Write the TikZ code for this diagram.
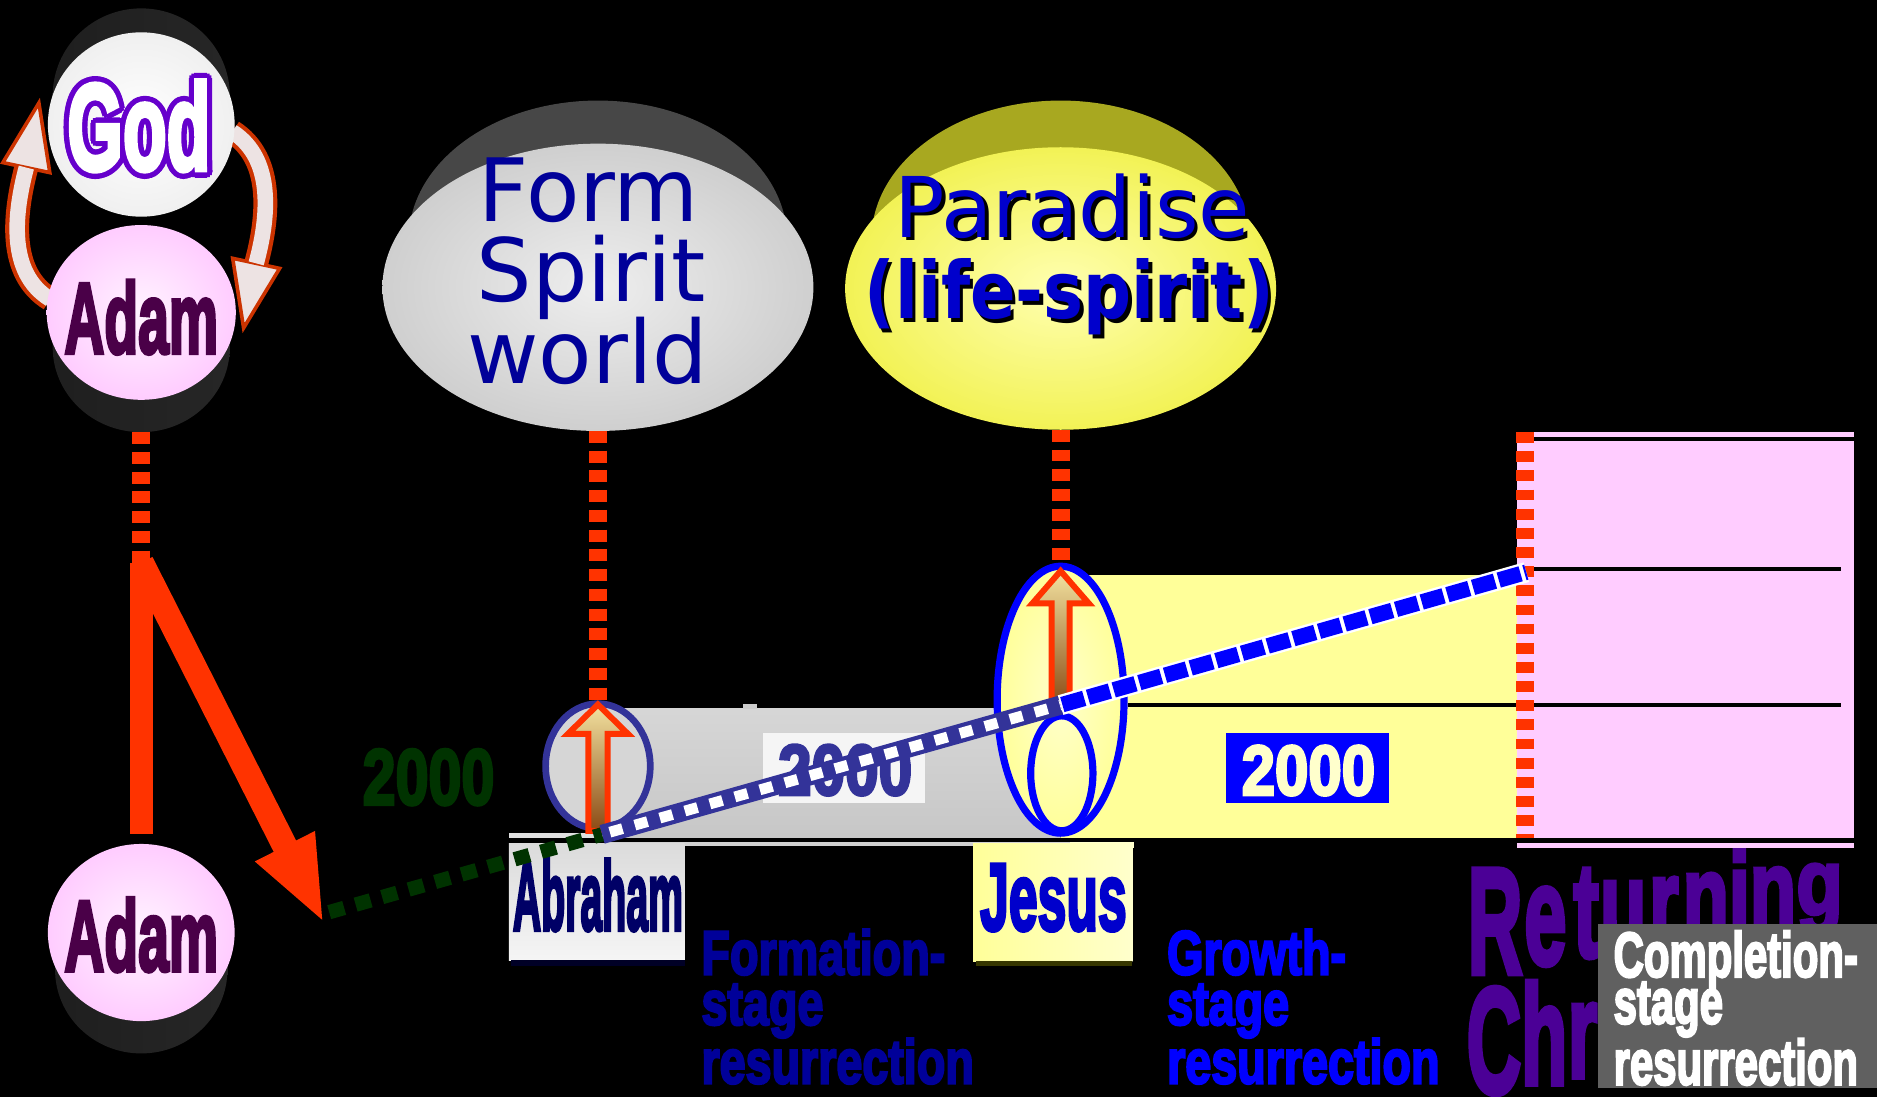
\documentclass[tikz,border=0pt]{standalone}
\usepackage{fontspec}
\usepackage{graphicx}
\usetikzlibrary{arrows.meta,shapes.geometric,calc}
\newfontfamily\impf{Liberation Sans Bold}[FakeBold=4]
\newfontfamily\dvs{DejaVu Sans}
\newfontfamily\dvsb{DejaVu Sans Bold}
\newcommand\fsz[1]{\fontsize{#1}{#1}\selectfont}
\newcommand\sxy[3]{\scalebox{#1}[#2]{#3}}
\newcommand\godtext{\impf\fsz{103}\sxy{0.58}{1}{God}}
\definecolor{fallred}{HTML}{FF3300}
\definecolor{curvred}{HTML}{CC3300}
\definecolor{curvfill}{HTML}{EDE3E3}
\definecolor{godpurple}{HTML}{6600CC}
\definecolor{adamtxt}{HTML}{4A0048}
\definecolor{pinkface}{HTML}{FFCCFF}
\definecolor{pinklight}{HTML}{FFF4FF}
\definecolor{formblue}{HTML}{000099}
\definecolor{parablue}{HTML}{0000CC}
\definecolor{abrblue}{HTML}{333399}
\definecolor{brightblue}{HTML}{0000FF}
\definecolor{dkgreen}{HTML}{003300}
\definecolor{abrtxt}{HTML}{000066}
\definecolor{yelA}{HTML}{FFFF66}
\definecolor{yelB}{HTML}{FFFFCC}
\definecolor{yelC}{HTML}{FFFF99}
\definecolor{yelD}{HTML}{FFFF55}
\definecolor{pinkbox}{HTML}{FFCCFF}
\definecolor{retpurple}{HTML}{4B0096}
\definecolor{complgray}{HTML}{606060}
\definecolor{grayface}{HTML}{CFCFCF}
\definecolor{grayfacein}{HTML}{EEEEEE}
\definecolor{parafacein}{HTML}{FFFFB0}
\definecolor{parafaceout}{HTML}{F2F255}
\definecolor{bandolive}{HTML}{5C5C00}
\definecolor{bandoliveside}{HTML}{A8A820}
\definecolor{arrtan}{HTML}{F2E2A0}
\definecolor{arrbrown}{HTML}{8B4A14}
\begin{document}
\begin{tikzpicture}[x=1pt,y=-1pt,
  txt/.style={inner sep=0pt, outer sep=0pt},
  disc/.style={ellipse, inner sep=0pt, outer sep=0pt},
  darkband/.style={disc, left color=black!88, middle color=black!50, right color=black!85},
  pinkdisc/.style={disc, inner color=pinklight, outer color=pinkface},
  redstripe/.style={draw=fallred, line width=15pt, dash pattern=on 10pt off 6.5pt},
  pinkstripe/.style={draw=fallred, line width=15pt, dash pattern=on 9pt off 7pt},
  sepline/.style={draw=black, line width=3.5pt},
  impword/.style={txt, anchor=base},
  stagetxt/.style={txt, anchor=base west}]
\useasboundingbox (0,0) rectangle (1568,916);
\fill[black] (0,0) rectangle (1568,916);

% curved arrows between God and Adam
\draw[curvred, line width=20pt] (42,250) .. controls (6,228) and (12,178) .. (22,140);
\filldraw[fill=curvfill, draw=curvred, line width=3pt] (2.4,135.8) -- (32.5,86) -- (41.6,144.2) -- cycle;
\draw[curvfill, line width=13pt] (42,250) .. controls (6,228) and (12,178) .. (22,140);
\draw[curvred, line width=20pt] (194,110) .. controls (230,133) and (224,183) .. (214,220);
\filldraw[fill=curvfill, draw=curvred, line width=3pt] (233.6,224.2) -- (203.5,274) -- (194.4,215.8) -- cycle;
\draw[curvfill, line width=13pt] (194,110) .. controls (230,133) and (224,183) .. (214,220);

% God disc
\node[darkband, minimum width=148, minimum height=146] (goddark) at (118,80) {};
\node[disc, inner color=white, outer color=black!6, minimum width=156, minimum height=154] (godface) at (118,104) {};
\foreach \a [count=\i] in {0,30,...,330}{
  \node[impword, text=godpurple] (godrim\i) at ($(116,142)+(\a:4.5)$) {\godtext};
}
\node[impword, text=white] (godword) at (116,142) {\godtext};

% Adam (top)
\node[darkband, minimum width=148, minimum height=142] (adamtopdark) at (118,290) {};
\node[pinkdisc, minimum width=158, minimum height=146] (adamtop) at (118,261) {};
\node[impword, text=adamtxt] (adamtopword) at (118,295) {\impf\fsz{84}\sxy{0.55}{1}{Adam}};

% fall
\coordinate (fallpt) at (118,470);
\coordinate (barend) at (118,697);
\coordinate (falltip) at (271,772);
\draw[redstripe] (adamtopdark.south) -- (fallpt);
\draw[fallred, line width=19.5pt] (fallpt) -- (barend);
\draw[fallred, line width=21pt, -{Triangle[length=73pt,width=50pt]}] (fallpt) -- (falltip);

% Adam (bottom)
\node[darkband, minimum width=144, minimum height=140] (adambotdark) at (118,810) {};
\node[pinkdisc, minimum width=156, minimum height=148] (adambot) at (118,779) {};
\node[impword, text=adamtxt] (adambotword) at (118,811) {\impf\fsz{84}\sxy{0.55}{1}{Adam}};

% Form spirit world disc
\node[disc, left color=black!72, middle color=black!55, right color=black!72, minimum width=316, minimum height=232] (formdark) at (499.5,200) {};
\node[disc, inner color=grayfacein, outer color=grayface, minimum width=360, minimum height=240] (formface) at (499.5,240) {};
\node[impword, text=formblue] (formw1) at (492,185) {\dvs\fsz{73}Form};
\node[impword, text=formblue] (formw2) at (494,252) {\dvs\fsz{73}Spirit};
\node[impword, text=formblue] (formw3) at (491,320) {\dvs\fsz{73}world};

% Paradise disc
\node[disc, left color=bandoliveside, middle color=bandolive, right color=bandoliveside, minimum width=316, minimum height=232] (paradark) at (886,200) {};
\node[disc, inner color=parafacein, outer color=parafaceout, minimum width=360, minimum height=236] (paraface) at (886,241) {};
\node[impword, text=black] (parash1) at (899,201) {\dvs\fsz{70}Paradise};
\node[impword, text=parablue] (paraw1) at (896,198) {\dvs\fsz{70}Paradise};
\node[impword, text=black] (parash2) at (896,269) {\dvsb\fsz{66}\sxy{0.85}{1}{(life-spirit)}};
\node[impword, text=parablue] (paraw2) at (893,266) {\dvsb\fsz{66}\sxy{0.85}{1}{(life-spirit)}};

% bands
\shade[top color=black!16, bottom color=black!22] (500,592) rectangle (886,700);
\fill[black!20] (621,588) rectangle (632,592);
\shade[left color=yelC, middle color=yelD, right color=yelC] (886,481) rectangle (1274,700);
\fill[pinkbox] (1267,361) rectangle (1549,700);
\draw[sepline] (1281,367) -- (1549,367);
\draw[sepline] (1281,475) -- (1538,475);
\draw[sepline] (942,589) -- (1538,589);
\fill[black!12] (425,696) rectangle (505,700);
\fill[black!18] (507,703) rectangle (894,707);
\fill[yelB] (894,703) rectangle (947,708);
\fill[pinkbox] (1267,704) rectangle (1549,708);

% label boxes
\shade[top color=black!14, bottom color=black!4] (425,705) rectangle (572,802);
\fill[black!85!blue] (427,802) rectangle (572,807);
\node[impword, text=abrtxt] (abrword) at (499.5,777) {\impf\fsz{82}\sxy{0.40}{1}{Abraham}};
\shade[left color=yelC, right color=yelB] (813,705) rectangle (946,803);
\fill[bandolive!60!black] (815,803) rectangle (946,807);
\node[impword, text=parablue] (jesword) at (880,777) {\impf\fsz{80}\sxy{0.54}{1}{Jesus}};

% 2000 labels
\node[impword, text=dkgreen] (yrs1) at (358,672) {\impf\fsz{66}\sxy{0.75}{1}{2000}};
\fill[black!4] (637,612) rectangle (773,671);
\node[impword, text=abrblue] (yrs2) at (706,664) {\impf\fsz{60}\sxy{0.84}{1}{2000}};
\fill[brightblue] (1024,612) rectangle (1160,671);
\node[impword, text=yelB] (yrs3) at (1093,664) {\impf\fsz{59}\sxy{0.85}{1}{2000}};

% resurrection ellipses
\node[disc, draw=abrblue, line width=5.6pt, fill=black!16, minimum width=87.4, minimum height=104.4] (abrell) at (499.5,640) {};
\node[disc, draw=brightblue, line width=6pt, inner color=yelB, outer color=yelC, minimum width=106, minimum height=223] (jesell) at (886,584.5) {};
\node[disc, draw=brightblue, line width=6pt, minimum width=52, minimum height=96] (jesinner) at (887,646) {};
\draw[fallred, line width=5pt, top color=arrtan, bottom color=arrbrown] (491.5,694) -- (491.5,613) -- (474.5,613) -- (499.5,588.5) -- (524.5,613) -- (507.5,613) -- (507.5,694) -- cycle;
\draw[fallred, line width=5pt, top color=arrtan, bottom color=arrbrown] (878.5,590) -- (878.5,504) -- (862.5,504) -- (886,477) -- (909.5,504) -- (893.5,504) -- (893.5,590) -- cycle;

% vertical dotted connectors
\draw[redstripe] (formface.south) -- (abrell.north);
\draw[redstripe] (paraface.south) -- (jesell.north);
\coordinate (pinktop) at (1274,361);
\coordinate (pinkbot) at (1274,700);
\draw[pinkstripe] (pinktop) -- (pinkbot);

% history line
\coordinate (greenstart) at (275,762);
\coordinate (abrbase) at (503,697);
\coordinate (jesbase) at (886,589);
\coordinate (retpt) at (1275,478);
\draw[dkgreen, line width=12pt, dash pattern=on 13pt off 10pt] (greenstart) -- (abrbase);
\draw[abrblue, line width=16pt] (abrbase) -- (jesbase);
\draw[white, line width=9pt, dash pattern=on 11pt off 10.7pt, dash phase=15pt] (abrbase) -- (jesbase);
\draw[white, line width=17pt] (jesbase) -- (retpt);
\draw[brightblue, line width=13pt, dash pattern=on 19pt off 3.3pt, dash phase=-1.5pt] (jesbase) -- (retpt);

% stage texts
\node[stagetxt, text=formblue] (form1) at (586,814) {\impf\fsz{52}\sxy{0.75}{1}{Formation-}};
\node[stagetxt, text=formblue] (form2) at (586,856) {\impf\fsz{52}\sxy{0.75}{1}{stage}};
\node[stagetxt, text=formblue] (form3) at (586,905) {\impf\fsz{52}\sxy{0.75}{1}{resurrection}};
\node[stagetxt, text=brightblue] (grow1) at (975,814) {\impf\fsz{52}\sxy{0.75}{1}{Growth-}};
\node[stagetxt, text=brightblue] (grow2) at (975,856) {\impf\fsz{52}\sxy{0.75}{1}{stage}};
\node[stagetxt, text=brightblue] (grow3) at (975,905) {\impf\fsz{52}\sxy{0.75}{1}{resurrection}};

% Returning Christ (perspective letters)
\foreach \ch/\xc/\yb/\ys [count=\i] in {R/1249/813/1.00, e/1291/805.4/0.94, t/1325/799.2/0.89, u/1356/793.6/0.85, r/1390/787.5/0.80, n/1425/781.1/0.755, i/1453/776/0.72, n/1481/771/0.68, g/1520/764/0.62}{
  \node[impword, text=retpurple] (ret\i) at (\xc,\yb) {\impf\fsz{126}\sxy{0.5}{\ys}{\ch}};
}
\foreach \ch/\xc/\yb/\ys [count=\i] in {C/1248/913/1.00, h/1290/905.6/0.94, r/1322/899.8/0.90, i/1345/895.6/0.87, s/1368/891.5/0.83, t/1392/887.1/0.80}{
  \node[impword, text=retpurple] (chr\i) at (\xc,\yb) {\impf\fsz{126}\sxy{0.5}{\ys}{\ch}};
}

% completion box
\fill[complgray] (1335,772) rectangle (1568,909);
\node[stagetxt, text=white] (comp1) at (1348,816) {\impf\fsz{53}\sxy{0.66}{1}{Completion-}};
\node[stagetxt, text=white] (comp2) at (1348,855) {\impf\fsz{53}\sxy{0.66}{1}{stage}};
\node[stagetxt, text=white] (comp3) at (1348,906) {\impf\fsz{53}\sxy{0.66}{1}{resurrection}};
\end{tikzpicture}
\end{document}
